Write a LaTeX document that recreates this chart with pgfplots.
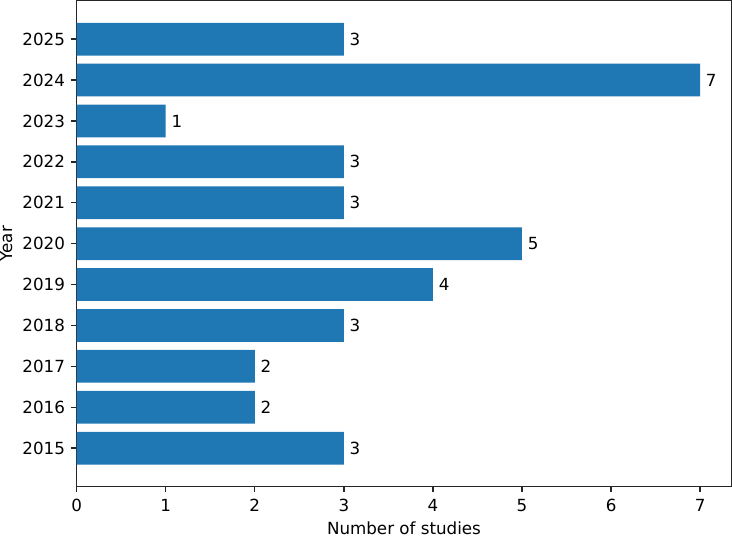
\documentclass[border=0pt]{standalone}
\usepackage{fontspec}
\setmainfont{DejaVu Sans}
\usepackage{pgfplots}
\pgfplotsset{compat=1.18}
\definecolor{mplblue}{HTML}{1F77B4}
\begin{document}
\fontsize{12}{14}\selectfont
\begin{tikzpicture}
\begin{axis}[
  scale only axis,
  width=470.2pt, height=349pt,
  xbar, bar width=0.8,
  xmin=0, xmax=7.35,
  ymin=2014.06, ymax=2025.94,
  xtick={0,1,2,3,4,5,6,7},
  ytick={2015,2016,2017,2018,2019,2020,2021,2022,2023,2024,2025},
  yticklabels={2015,2016,2017,2018,2019,2020,2021,2022,2023,2024,2025},
  /pgf/number format/assume math mode=true,
  tick align=outside,
  major tick length=4.2pt,
  tick style={black!85, line width=1pt},
  axis line style={black!85, line width=1pt},
  xtick pos=bottom, ytick pos=left,
  ticklabel style={font=\fontsize{12}{14}\selectfont},
  xticklabel style={yshift=-0.5pt},
  xlabel={Number of studies},
  ylabel={Year},
  label style={font=\fontsize{12}{14}\selectfont, inner sep=0pt},
  xlabel style={inner ysep=2.2pt},
  xlabel shift=0.8pt,
  ylabel shift=3pt,
  nodes near coords,
  nodes near coords style={font=\fontsize{12}{14}\selectfont, anchor=west, xshift=0pt, /pgf/number format/assume math mode=true},
  clip=false,
]
\addplot[fill=mplblue, draw=none] coordinates {
(3,2015) (2,2016) (2,2017) (3,2018) (4,2019) (5,2020) (3,2021) (3,2022) (1,2023) (7,2024) (3,2025)
};
\end{axis}
\end{tikzpicture}
\end{document}
